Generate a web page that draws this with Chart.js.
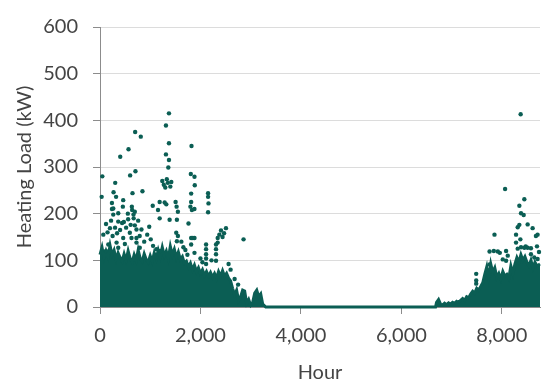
<!DOCTYPE html>
<html>
<head>
<meta charset="utf-8">
<title>Heating Load</title>
<script src="https://cdn.jsdelivr.net/npm/chart.js@4.4.1/dist/chart.umd.min.js"></script>
<style>
  html, body { margin: 0; padding: 0; background: #fff; }
  #wrap { width: 544px; height: 385px; }
</style>
</head>
<body>
<div id="wrap"><canvas id="chart" width="544" height="385"></canvas></div>
<script>
// Hourly heating load, kW. The dense cloud is given by its upper edge,
// the scattered hours above it as single points.
const bandHours = [
  0, 40, 80, 120, 160, 200, 240, 280, 320, 360, 400, 440, 480, 520, 560, 600,
  640, 680, 720, 760, 800, 840, 880, 920, 960, 1000, 1040, 1080, 1120, 1160, 1200,
  1240, 1280, 1320, 1360, 1400, 1440, 1480, 1520, 1560, 1600, 1640, 1680, 1720,
  1760, 1800, 1840, 1880, 1920, 1960, 2000, 2040, 2080, 2120, 2160, 2200, 2240,
  2280, 2320, 2360, 2400, 2440, 2480, 2520, 2560, 2600, 2640, 2680, 2720, 2760,
  2800, 2840, 2880, 2920, 2960, 3000, 3040, 3080, 3120, 3160, 3200, 3240, 3300,
  6680, 6700, 6740, 6780, 6820, 6860, 6900, 6940, 6980, 7020, 7060, 7100, 7140,
  7180, 7220, 7260, 7300, 7340, 7380, 7420, 7460, 7500, 7540, 7580, 7620, 7660,
  7700, 7740, 7780, 7820, 7860, 7900, 7940, 7980, 8020, 8060, 8100, 8140, 8180,
  8220, 8260, 8300, 8340, 8380, 8420, 8460, 8500, 8540, 8580, 8620, 8660, 8700, 8760
];
const bandLoads = [
  112, 128, 106, 120, 108, 132, 112, 122, 102, 116, 106, 98, 114, 100, 120, 104,
  96, 112, 100, 122, 104, 98, 114, 102, 96, 110, 98, 116, 104, 122, 108,
  128, 110, 120, 104, 130, 112, 124, 106, 118, 102, 108, 94, 98,
  86, 94, 80, 90, 76, 84, 72, 80, 68, 76, 66, 74, 64,
  72, 62, 76, 66, 78, 66, 72, 62, 56, 40, 26, 36, 14,
  22, 36, 34, 8, 16, 4, 10, 30, 36, 22, 28, 6, 0,
  0, 10, 16, 6, 4, 8, 5, 9, 6, 10, 8, 12, 10,
  14, 18, 14, 22, 20, 28, 34, 30, 40, 36, 44, 52, 70,
  86, 62, 92, 74, 84, 64, 72, 60, 76, 66, 70, 62, 88,
  72, 92, 106, 96, 112, 100, 108, 96, 88, 100, 84, 96, 88, 92
];

const pointHours = [
  1373, 1313, 700, 812, 1373, 1822, 568, 403, 1313, 1373, 1360, 706, 600, 303, 46,
  1808, 1881, 1887, 1240, 1270, 1300, 1330, 1350, 1400, 1420, 845, 2152, 2152, 33,
  270, 320, 462, 647, 634, 640, 1050, 1188, 1320, 1505, 1525, 1800, 1830, 1880,
  1815, 1815, 2160, 2152, 1188, 1386, 1531, 1551, 1762, 264, 264, 363, 440, 475,
  667, 670, 693, 726, 825, 198, 251, 2508, 2409, 2376, 2343, 2343, 2858, 1518,
  1551, 1815, 1815, 1881, 1881, 2112, 2112, 2112, 2112, 2112, 1056, 1122, 1201,
  1531, 66, 165, 119, 462, 495, 594, 627, 726, 726, 330, 363, 792, 238, 238, 455,
  554, 363, 693, 1155, 1287, 120, 150, 220, 300, 340, 400, 520, 560, 610, 760,
  790, 880, 940, 980, 1010, 2310, 2310, 2310, 2310, 2440, 2470, 1848, 1620, 1660,
  1700, 1740, 2000, 2040, 2220, 2560, 2600, 2680, 2750,
  8375, 8065, 8448, 8349, 8382, 8435, 8349, 8316, 8514, 8613, 8712, 8679, 8283,
  7854, 8369, 8283, 8475, 8514, 7756, 7841, 7920, 7960, 8085, 8118, 8316, 8382,
  8448, 8580, 8019, 8085, 7490, 7490, 7490, 8580, 8646, 8712, 7756, 8700, 8740
];
const pointLoads = [
  415, 389, 375, 365, 351, 345, 338, 322, 327, 315, 299, 291, 282, 266, 280,
  285, 279, 261, 270, 262, 256, 274, 266, 258, 268, 248, 244, 236, 236,
  246, 236, 229, 244, 215, 208, 217, 225, 220, 225, 215, 215, 208, 210,
  243, 225, 222, 203, 190, 187, 187, 204, 179, 198, 211, 183, 180, 182,
  198, 190, 175, 166, 166, 169, 152, 169, 164, 155, 148, 138, 145, 159,
  152, 148, 134, 148, 116, 134, 124, 113, 92, 104, 131, 124, 120,
  141, 155, 134, 120, 148, 135, 159, 148, 148, 138, 138, 127, 127, 223, 210, 215,
  200, 201, 204, 208, 224, 178, 160, 185, 170, 158, 165, 170, 188, 176, 185,
  152, 140, 155, 172, 145, 134, 124, 113, 99, 150, 158, 148, 140, 128,
  122, 112, 104, 96, 100, 92, 80, 60, 48,
  413, 253, 231, 217, 201, 197, 176, 171, 177, 169, 155, 152, 155,
  155, 145, 138, 130, 127, 119, 120, 119, 116, 120, 110, 125, 128,
  127, 126, 102, 99, 71, 57, 50, 113, 106, 103, 91, 130, 118
];

const xTickValues = [0, 2000, 4000, 6000, 8000];
const xTickLabels = ['0', '2,000', '4,000', '6,000', '8,000'];
const yTickValues = [0, 100, 200, 300, 400, 500, 600];
const yTickLabels = ['0', '100', '200', '300', '400', '500', '600'];

const teal = '#0b5e54';
const axisGrey = '#8c8c8c';
const textGrey = '#444444';
const font = { family: 'Lato', size: 20 };

const band = bandHours.map((h, i) => ({ x: h, y: bandLoads[i] }));
const points = pointHours.map((h, i) => ({ x: h, y: pointLoads[i] }));

new Chart(document.getElementById('chart'), {
  type: 'scatter',
  data: {
    datasets: [
      {
        type: 'line',
        label: 'Hourly load (dense)',
        data: band,
        borderColor: teal,
        backgroundColor: teal,
        borderWidth: 3,
        fill: 'origin',
        pointRadius: 0,
        tension: 0,
        clip: false,
        order: 2
      },
      {
        label: 'Hourly load',
        data: points,
        backgroundColor: teal,
        borderWidth: 0,
        pointRadius: 2.2,
        clip: false,
        order: 1
      }
    ]
  },
  options: {
    responsive: false,
    animation: false,
    layout: { padding: { top: 23, right: 3, left: 0, bottom: 0 } },
    plugins: {
      legend: { display: false },
      tooltip: { enabled: false }
    },
    scales: {
      x: {
        type: 'linear',
        min: 0,
        max: 8760,
        afterBuildTicks: (scale) => { scale.ticks = xTickValues.map(v => ({ value: v })); },
        afterFit: (scale) => { scale.height = 78; },
        ticks: {
          font: font,
          color: textGrey,
          padding: 10,
          maxRotation: 0,
          callback: (v, i) => xTickLabels[i]
        },
        grid: { drawOnChartArea: false, tickLength: 7, tickColor: axisGrey },
        border: { color: axisGrey, width: 1 },
        title: {
          display: true,
          text: 'Hour',
          font: font,
          color: textGrey,
          padding: { top: 0, bottom: 0 }
        }
      },
      y: {
        min: 0,
        max: 600,
        afterBuildTicks: (scale) => { scale.ticks = yTickValues.map(v => ({ value: v })); },
        afterFit: (scale) => { scale.width = 100; },
        ticks: {
          font: font,
          color: textGrey,
          padding: 15,
          callback: (v, i) => yTickLabels[i]
        },
        grid: { color: '#dcdcdc', tickLength: 7, tickColor: axisGrey },
        border: { color: axisGrey, width: 1 },
        title: {
          display: true,
          text: 'Heating Load (kW)',
          font: font,
          color: textGrey,
          padding: { top: 13, bottom: 0 }
        }
      }
    }
  }
});
</script>
</body>
</html>
